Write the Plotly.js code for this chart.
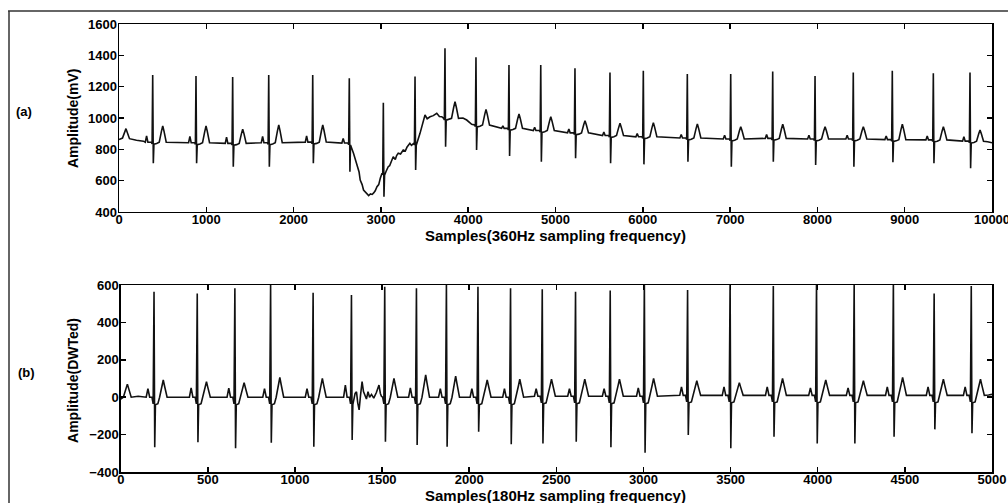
<!DOCTYPE html>
<html>
<head>
<meta charset="utf-8">
<script src="https://cdn.plot.ly/plotly-3.0.1.min.js"></script>
<style>html,body{margin:0;padding:0;background:#fff;}#chart{width:1008px;height:503px;}</style>
</head>
<body>
<div id="chart"></div>
<script>
// ---------- (a) raw ECG, 360 Hz ----------
const beatX_a   = [386, 882, 1302, 1715, 2219, 2638, 3028, 3391, 3734, 4089, 4467, 4831, 5223, 5624, 6006, 6510, 7007, 7488, 7973, 8411, 8858, 9328, 9748];
const rPeak_a   = [1274, 1268, 1262, 1274, 1274, 1253, 1098, 1264, 1445, 1387, 1338, 1338, 1317, 1290, 1302, 1281, 1281, 1296, 1268, 1290, 1302, 1285, 1290];
const sTrough_a = [711, 711, 689, 689, 711, 657, 498, 668, 817, 796, 757, 721, 743, 711, 704, 721, 689, 721, 700, 689, 717, 711, 679];
const base_a    = [845, 842, 838, 842, 846, 840, 647, 838, 998, 955, 934, 920, 905, 888, 880, 872, 866, 870, 866, 866, 862, 860, 852];
const pPeak_a   = [885, 882, 878, 882, 886, 870, null, null, null, null, 950, 940, 930, 910, 900, 895, 890, 895, 890, 890, 885, 885, 880];
const tPeak_a   = [949, 949, 929, 955, 955, null, null, null, 1104, 1055, 1026, 1008, 983, 966, 970, 962, 944, 960, 944, 944, 960, 944, 923];
// baseline points read between beats (start, baseline wander, end)
const knots_a = [
  [0, 862], [40, 872], [80, 932], [120, 868], [200, 858], [280, 852],
  [2686, 775], [2730, 690], [2750, 655], [2763, 604], [2785, 575], [2801, 540], [2820, 530], [2840, 519], [2860, 505], [2880, 515], [2900, 512], [2917, 522], [2935, 535], [2955, 561], [2975, 575], [2993, 615],
  [3060, 660], [3084, 689], [3100, 695], [3120, 720], [3141, 753], [3165, 735], [3180, 760], [3199, 775], [3225, 770], [3256, 796], [3280, 790], [3300, 815], [3332, 838], [3350, 825],
  [3448, 902], [3480, 960], [3505, 1019], [3530, 995], [3563, 1008], [3600, 1015], [3640, 1030], [3670, 1010], [3697, 1008],
  [3940, 1000], [3983, 987], [4040, 960],
  [9950, 848], [10000, 842]
];

// ---------- (b) DWT output, 180 Hz ----------
const beatX_b   = [191, 439, 655, 860, 1104, 1324, 1515, 1697, 1869, 2050, 2237, 2419, 2610, 2809, 3005, 3253, 3497, 3745, 3993, 4209, 4434, 4668, 4881];
const rPeak_b   = [564, 555, 582, 605, 559, 547, 591, 582, 605, 591, 582, 577, 564, 570, 620, 573, 620, 595, 620, 605, 620, 555, 595];
const sTrough_b = [-268, -241, -273, -243, -265, -229, -238, -256, -265, -185, -252, -247, -238, -268, -297, -202, -273, -211, -247, -247, -211, -172, -193];
const base_b    = [0, 0, 0, 0, 0, 0, 0, 0, 0, 0, 0, 5, 5, 5, 5, 10, 10, 10, 10, 10, 10, 10, 10];
const pPeak_b   = [45, 50, 48, 45, 45, 65, null, 50, 45, 45, 45, 45, 45, 45, 50, 55, 55, 55, 50, 50, 55, 55, 55];
const tPeak_b   = [92, 83, 78, 106, 101, null, 101, 119, 113, 92, 96, 96, 96, 96, 101, 88, 78, 101, 92, 88, 106, 96, 96];
const knots_b = [
  [0, -10], [15, 0], [38, 70], [60, 0], [100, 5], [130, 0],
  [1345, 20], [1353, 29], [1360, -30], [1368, -68], [1376, 10], [1385, 83], [1393, 30], [1400, 15], [1410, -10],
  [1419, 30], [1428, 0], [1439, 15], [1452, -5], [1467, 25], [1482, 65], [1490, 20], [1496, 5],
  [4980, 12], [5000, 15]
];

// beat shape offsets (in samples) for each panel
const shapeA = {p: [-85, -70, -55], q: [-15, -7], qDip: -10, s: 7, j: 14, jDip: -12, t: [45, 75, 100, 115, 130, 155], tDip: -8};
const shapeB = {p: [-45, -35, -25], q: [-12, -5], qDip: -35, s: 4, j: 8, jDip: -40, t: [22, 32, 46, 53, 60, 75], tDip: -35};

function buildSignal(beatX, rPk, sTr, base, pPk, tPk, knots, sh) {
  const pts = knots.map(k => [k[0], k[1]]);
  beatX.forEach((r, i) => {
    const b = base[i];
    if (pPk[i] != null) {
      pts.push([r + sh.p[0], b], [r + sh.p[1], pPk[i]], [r + sh.p[2], b]);
    }
    pts.push([r + sh.q[0], b], [r + sh.q[1], b + sh.qDip], [r, rPk[i]], [r + sh.s, sTr[i]], [r + sh.j, b + sh.jDip]);
    if (tPk[i] != null) {
      const T = tPk[i];
      pts.push([r + sh.t[0], b + sh.tDip], [r + sh.t[1], b], [r + sh.t[2], (b + 2 * T) / 3],
               [r + sh.t[3], T], [r + sh.t[4], (b + 2 * T) / 3], [r + sh.t[5], b]);
    }
  });
  pts.sort((a, b) => a[0] - b[0]);
  return {x: pts.map(p => p[0]), y: pts.map(p => p[1])};
}

const sigA = buildSignal(beatX_a, rPeak_a, sTrough_a, base_a, pPeak_a, tPeak_a, knots_a, shapeA);
const sigB = buildSignal(beatX_b, rPeak_b, sTrough_b, base_b, pPeak_b, tPeak_b, knots_b, shapeB);

const lineStyle = {color: '#111', width: 1.6};
const traces = [
  {x: sigA.x, y: sigA.y, type: 'scatter', mode: 'lines', line: lineStyle, xaxis: 'x', yaxis: 'y', hoverinfo: 'skip', showlegend: false},
  {x: sigB.x, y: sigB.y, type: 'scatter', mode: 'lines', line: lineStyle, xaxis: 'x2', yaxis: 'y2', hoverinfo: 'skip', showlegend: false}
];

const FONT = 'Liberation Sans, Arial, Helvetica, sans-serif';
const tickFont = {family: FONT, size: 13, color: '#000', weight: 'bold'};
function axis(extra) {
  return Object.assign({
    ticks: 'inside', ticklen: 5, tickwidth: 1.5, tickcolor: '#000',
    showline: true, linecolor: '#000', linewidth: 1.5, mirror: 'ticks',
    showgrid: false, zeroline: false, tickfont: tickFont, automargin: false,
    tickformat: 'd', ticklabeloverflow: 'allow'
  }, extra);
}

const titleFontX = {family: FONT, size: 15, color: '#000', weight: 'bold'};
const titleFontY = {family: FONT, size: 14, color: '#000', weight: 'bold'};

const layout = {
  width: 1008, height: 503,
  margin: {l: 119, r: 16, t: 24, b: 31},
  paper_bgcolor: '#fff', plot_bgcolor: '#fff',
  font: {family: FONT, color: '#000'},
  xaxis:  axis({domain: [0, 1], anchor: 'y',  range: [0, 10000], tick0: 0, dtick: 1000, ticklabelstandoff: -5}),
  yaxis:  axis({domain: [0.5804, 1], anchor: 'x', range: [400, 1600], tick0: 400, dtick: 200, ticklabelstandoff: -2}),
  xaxis2: axis({domain: [0.002, 1.001], anchor: 'y2', range: [0, 5000], tick0: 0, dtick: 500, ticklabelstandoff: -5}),
  yaxis2: axis({domain: [0, 0.4174], anchor: 'x2', range: [-400, 600], tick0: -400, dtick: 200, ticklabelstandoff: -2}),
  annotations: [
    {text: 'Amplitude(mV)', xref: 'paper', yref: 'paper', x: -0.0527, y: 0.790, textangle: -90, showarrow: false, font: titleFontY, xanchor: 'center', yanchor: 'middle'},
    {text: 'Samples(360Hz sampling frequency)', xref: 'paper', yref: 'paper', x: 0.5, y: 0.5268, showarrow: false, font: titleFontX, xanchor: 'center', yanchor: 'middle'},
    {text: 'Amplitude(DWTed)', xref: 'paper', yref: 'paper', x: -0.0527, y: 0.2054, textangle: -90, showarrow: false, font: titleFontY, xanchor: 'center', yanchor: 'middle'},
    {text: 'Samples(180Hz sampling frequency)', xref: 'paper', yref: 'paper', x: 0.5, y: -0.0535, showarrow: false, font: titleFontX, xanchor: 'center', yanchor: 'middle'},
    {text: '(a)', xref: 'paper', yref: 'paper', x: -0.1088, y: 0.8036, showarrow: false, font: {family: FONT, size: 13, color: '#000', weight: 'bold'}, xanchor: 'center', yanchor: 'middle'},
    {text: '(b)', xref: 'paper', yref: 'paper', x: -0.1065, y: 0.2232, showarrow: false, font: {family: FONT, size: 13, color: '#000', weight: 'bold'}, xanchor: 'center', yanchor: 'middle'}
  ],
  shapes: [
    {type: 'line', xref: 'paper', yref: 'paper', x0: -0.1271, x1: 1.0183, y0: 1.029, y1: 1.029, line: {color: '#333', width: 1.5}},
    {type: 'line', xref: 'paper', yref: 'paper', x0: -0.1260, x1: -0.1260, y0: 1.029, y1: -0.0692, line: {color: '#333', width: 1.5}}
  ]
};

Plotly.newPlot('chart', traces, layout, {displayModeBar: false, staticPlot: true});
</script>
</body>
</html>
